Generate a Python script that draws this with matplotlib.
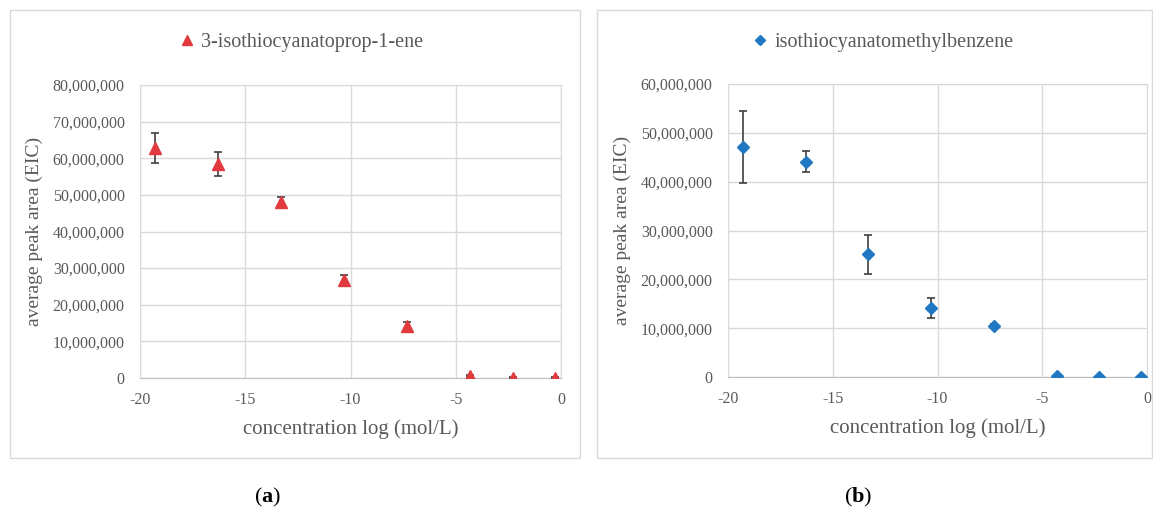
import numpy as np
import matplotlib.pyplot as plt
from matplotlib.patches import Rectangle
from matplotlib.ticker import FuncFormatter, MultipleLocator

# data
conc_log = [-19.3, -16.3, -13.3, -10.3, -7.3, -4.3, -2.3, -0.3]

allyl_area = [62.8e6, 58.4e6, 48.0e6, 26.8e6, 14.1e6, 0.6e6, 0.1e6, 0.1e6]
allyl_err = [4.2e6, 3.3e6, 1.4e6, 1.2e6, 1.3e6, 0.2e6, 0.05e6, 0.05e6]

benzyl_area = [47.1e6, 44.1e6, 25.1e6, 14.1e6, 10.5e6, 0.3e6, 0.0, 0.0]
benzyl_err = [7.3e6, 2.1e6, 4.0e6, 2.0e6, 0.4e6, 0.1e6, 0.0, 0.0]

labels = ['3-isothiocyanatoprop-1-ene', 'isothiocyanatomethylbenzene']
panel_tags = ['a', 'b']

plt.rcParams['font.family'] = ['Liberation Serif', 'DejaVu Serif']
plt.rcParams['mathtext.fontset'] = 'custom'
plt.rcParams['mathtext.rm'] = 'Liberation Serif'
plt.rcParams['mathtext.bf'] = 'Liberation Serif:bold'
text_col = '#595959'
grid_col = '#d9d9d9'

W, H = 1153, 514
fig = plt.figure(figsize=(W / 100, H / 100), dpi=100)


def px_axes(x0, x1, y0, y1):
    return fig.add_axes([x0 / W, 1 - y1 / H, (x1 - x0) / W, (y1 - y0) / H])


# panel frames
for x0, x1 in [(10, 580), (597, 1152)]:
    fig.patches.append(Rectangle((x0 / W, 1 - 458 / H), (x1 - x0) / W, 448 / H,
                                 transform=fig.transFigure, fill=False,
                                 edgecolor=grid_col, linewidth=1.0))

comma = FuncFormatter(lambda v, p: f'{int(round(v)):,}')
plain = FuncFormatter(lambda v, p: f'{int(round(v))}')

panels = [
    dict(box=(140, 561, 85, 378), y=allyl_area, e=allyl_err, ymax=80e6,
         marker='^', color='#e0393e', ms=8, lab=labels[0],
         ylab_x=43, leg_x=302, tag_x=268),
    dict(box=(728, 1147, 84, 377), y=benzyl_area, e=benzyl_err, ymax=60e6,
         marker='D', color='#1f78c1', ms=6.5, lab=labels[1],
         ylab_x=631, leg_x=884, tag_x=858),
]

for i, p in enumerate(panels):
    ax = px_axes(*p['box'])
    ax.errorbar(conc_log, p['y'], yerr=p['e'], fmt='none', ecolor='#404040',
                elinewidth=1.2, capsize=3, capthick=1.2, zorder=3)
    ax.plot(conc_log, p['y'], linestyle='none', marker=p['marker'],
            color=p['color'], markersize=p['ms'], zorder=4, label=p['lab'])
    ax.set_xlim(-20, 0)
    ax.set_ylim(0, p['ymax'])
    ax.xaxis.set_major_locator(MultipleLocator(5))
    ax.xaxis.set_major_formatter(plain)
    ax.yaxis.set_major_locator(MultipleLocator(10e6))
    ax.yaxis.set_major_formatter(comma)
    ax.grid(True, color=grid_col, linewidth=1.0)
    ax.set_axisbelow(True)
    for s in ax.spines.values():
        s.set_color(grid_col)
    ax.spines['bottom'].set_color('#bfbfbf')
    ax.tick_params(length=0, labelsize=11.5, colors=text_col)
    ax.tick_params(axis='y', pad=11)
    ax.tick_params(axis='x', pad=10)
    ax.set_xlabel('concentration log (mol/L)', fontsize=15, color=text_col,
                  labelpad=8)
    ax.set_ylabel('average peak area (EIC)', fontsize=14, color=text_col)
    ax.yaxis.set_label_coords((p['ylab_x'] - p['box'][0]) / (p['box'][1] - p['box'][0]), 0.5)

    fig.legend(handles=[ax.lines[-1]], loc='center', frameon=False,
               bbox_to_anchor=(p['leg_x'] / W, 1 - 42 / H), fontsize=14.5,
               labelcolor=text_col, handlelength=0.6, handletextpad=0.4,
               markerscale=0.85)

    fig.text(p['tag_x'] / W, 1 - 497 / H,
             r'($\mathbf{' + panel_tags[i] + '}$)', fontsize=16,
             ha='center', va='center')

fig.savefig('out.png', dpi=100)
